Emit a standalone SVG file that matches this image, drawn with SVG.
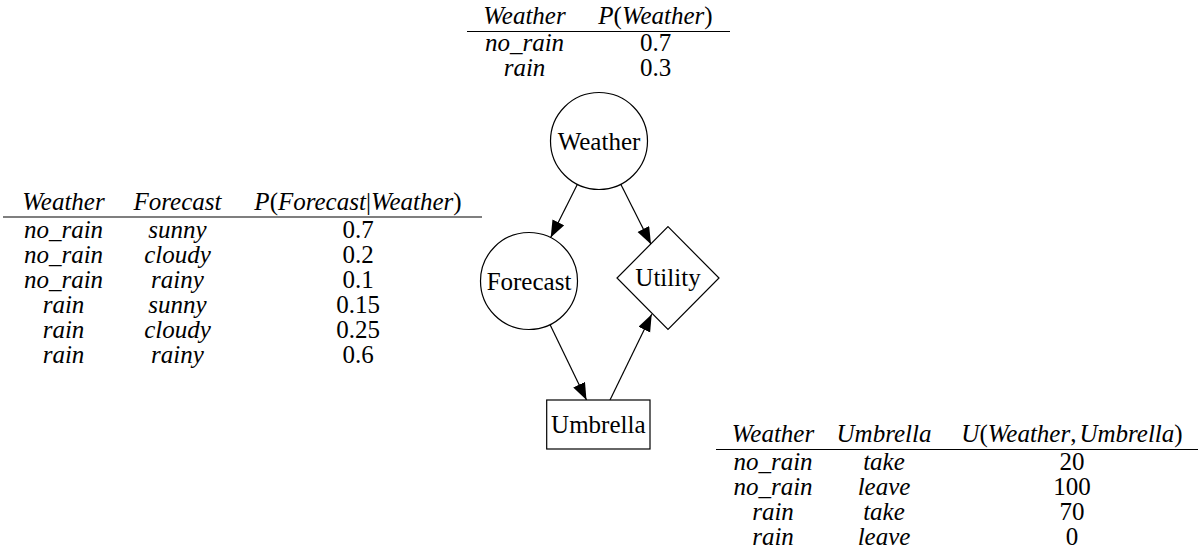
<svg xmlns="http://www.w3.org/2000/svg" width="1201" height="550" viewBox="0 0 1201 550" font-family="'Liberation Serif', 'DejaVu Serif', serif">
<style>
text{font-family:"Liberation Serif","DejaVu Serif",serif;font-size:25px;fill:#000;text-anchor:middle}
.it{font-style:italic}
.node{fill:#fff;stroke:#000;stroke-width:1.2}
.edge{stroke:#000;stroke-width:1.2;fill:none}
.rule{stroke:#000;stroke-width:1.1}
</style>
<defs>
<marker id="ah" markerUnits="userSpaceOnUse" markerWidth="18" markerHeight="14" refX="17" refY="6.5" orient="auto">
<path d="M0,0 L17,6.5 L0,13 z" fill="#000"/>
</marker>
</defs>
<rect width="1201" height="550" fill="#fff"/>

<g id="table-weather">
<text x="524.5" y="24" class="it">Weather</text>
<text x="655.5" y="24"><tspan class="it">P</tspan>(<tspan class="it">Weather</tspan>)</text>
<line class="rule" x1="467" y1="31.5" x2="730" y2="31.5"/>
<text x="524.5" y="51" class="it">no_rain</text><text x="655.5" y="51">0.7</text>
<text x="524.5" y="76" class="it">rain</text><text x="655.5" y="76">0.3</text>
</g>

<g id="table-forecast">
<text x="63.5" y="209.5" class="it">Weather</text>
<text x="177.5" y="209.5" class="it">Forecast</text>
<text x="358" y="209.5"><tspan class="it">P</tspan>(<tspan class="it">Forecast</tspan>|<tspan class="it">Weather</tspan>)</text>
<line class="rule" x1="3" y1="217" x2="482" y2="217"/>
<text x="63.5" y="237.5" class="it">no_rain</text><text x="177.5" y="237.5" class="it">sunny</text><text x="358" y="237.5">0.7</text>
<text x="63.5" y="262.5" class="it">no_rain</text><text x="177.5" y="262.5" class="it">cloudy</text><text x="358" y="262.5">0.2</text>
<text x="63.5" y="287.5" class="it">no_rain</text><text x="177.5" y="287.5" class="it">rainy</text><text x="358" y="287.5">0.1</text>
<text x="63.5" y="312.5" class="it">rain</text><text x="177.5" y="312.5" class="it">sunny</text><text x="358" y="312.5">0.15</text>
<text x="63.5" y="337.5" class="it">rain</text><text x="177.5" y="337.5" class="it">cloudy</text><text x="358" y="337.5">0.25</text>
<text x="63.5" y="362.5" class="it">rain</text><text x="177.5" y="362.5" class="it">rainy</text><text x="358" y="362.5">0.6</text>
</g>

<g id="table-utility">
<text x="773" y="442" class="it">Weather</text>
<text x="884" y="442" class="it">Umbrella</text>
<text x="1072" y="442"><tspan class="it">U</tspan>(<tspan class="it">Weather</tspan>,<tspan class="it" dx="3">Umbrella</tspan>)</text>
<line class="rule" x1="716" y1="449.5" x2="1198" y2="449.5"/>
<text x="773" y="469.5" class="it">no_rain</text><text x="884" y="469.5" class="it">take</text><text x="1072" y="469.5">20</text>
<text x="773" y="494.5" class="it">no_rain</text><text x="884" y="494.5" class="it">leave</text><text x="1072" y="494.5">100</text>
<text x="773" y="519.5" class="it">rain</text><text x="884" y="519.5" class="it">take</text><text x="1072" y="519.5">70</text>
<text x="773" y="544.5" class="it">rain</text><text x="884" y="544.5" class="it">leave</text><text x="1072" y="544.5">0</text>
</g>

<g id="connectors">
<line class="edge" x1="577.3" y1="184.4" x2="550.7" y2="237.6" marker-end="url(#ah)"/>
<line class="edge" x1="620.8" y1="184.3" x2="651" y2="244.2" marker-end="url(#ah)"/>
<line class="edge" x1="550.1" y1="324.7" x2="586.5" y2="400" marker-end="url(#ah)"/>
<line class="edge" x1="610" y1="400" x2="651.7" y2="314.3" marker-end="url(#ah)"/>
</g>

<g id="node-weather">
<circle class="node" cx="599" cy="141" r="48.5"/>
<text x="599" y="149.5">Weather</text>
</g>
<g id="node-forecast">
<circle class="node" cx="529" cy="281" r="48.5"/>
<text x="529" y="289.5">Forecast</text>
</g>
<g id="node-utility">
<polygon class="node" points="668,226.7 719,278 668,329.3 617,278"/>
<text x="668" y="286">Utility</text>
</g>
<g id="node-umbrella">
<rect class="node" x="546.7" y="400" width="103.3" height="49"/>
<text x="598.3" y="433">Umbrella</text>
</g>
</svg>
